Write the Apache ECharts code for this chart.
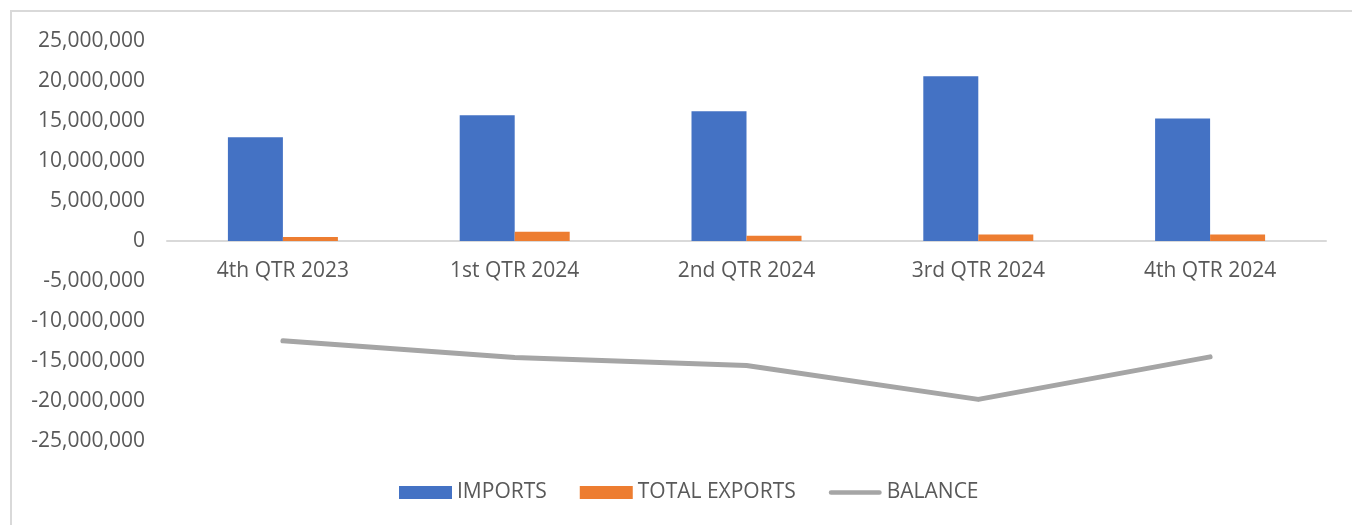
<!DOCTYPE html>
<html>
<head>
<meta charset="utf-8">
<script src="https://cdn.jsdelivr.net/npm/echarts@6/dist/echarts.min.js"></script>
<style>
html,body{margin:0;padding:0;background:#fff;}
#frame{position:absolute;left:10px;top:10px;width:1400px;height:600px;border-top:2px solid #D9D9D9;border-left:2px solid #D9D9D9;box-sizing:border-box;}
#chart{position:absolute;left:0;top:0;width:1352px;height:525px;}
</style>
</head>
<body>
<div id="frame"></div>
<div id="chart"></div>
<script>
const categories = ['4th QTR 2023', '1st QTR 2024', '2nd QTR 2024', '3rd QTR 2024', '4th QTR 2024'];
const imports = [12980000, 15720000, 16220000, 20600000, 15300000];
const totalExports = [500000, 1150000, 650000, 800000, 820000];
const balance = [-12480000, -14570000, -15570000, -19800000, -14480000];
const yTicks = { min: -25000000, max: 25000000, interval: 5000000 };

const chart = echarts.init(document.getElementById('chart'), null, { renderer: 'canvas' });
const font = 'Open Sans';
chart.setOption({
  animation: false,
  backgroundColor: 'transparent',
  grid: { left: 167, right: 26, top: 41, bottom: 84, containLabel: false },
  legend: {
    bottom: 17,
    left: 394,
    itemGap: 33,
    itemWidth: 53,
    itemHeight: 13,
    symbolKeepAspect: true,
    textStyle: { color: '#595959', fontFamily: font, fontSize: 21 },
    data: [
      { name: 'IMPORTS', icon: 'rect' },
      { name: 'TOTAL EXPORTS', icon: 'rect' },
      { name: 'BALANCE',
        icon: 'path://M2.5,0 L54.5,0 A2.5,2.5 0 0 1 54.5,5 L2.5,5 A2.5,2.5 0 0 1 2.5,0 Z',
        itemStyle: { color: '#A5A5A5', borderWidth: 0 } }
    ]
  },
  xAxis: {
    type: 'category',
    data: categories,
    offset: -200,
    axisLine: { onZero: false, lineStyle: { color: '#D9D9D9', width: 2 } },
    axisTick: { show: false },
    axisLabel: { color: '#595959', fontFamily: font, fontSize: 21, margin: 20 },
    splitLine: { show: false }
  },
  yAxis: {
    type: 'value',
    min: yTicks.min,
    max: yTicks.max,
    interval: yTicks.interval,
    axisLine: { show: false },
    axisTick: { show: false },
    splitLine: { show: false },
    axisLabel: {
      color: '#595959', fontFamily: font, fontSize: 21, margin: 22,
      formatter: v => v.toLocaleString('en-US')
    }
  },
  series: [
    {
      name: 'IMPORTS', type: 'bar', data: imports,
      barWidth: 55, barGap: '0%',
      itemStyle: { color: '#4472C4' }
    },
    {
      name: 'TOTAL EXPORTS', type: 'bar', data: totalExports,
      barWidth: 55,
      itemStyle: { color: '#ED7D31' }
    },
    {
      name: 'BALANCE', type: 'line', data: balance,
      symbol: 'none', showSymbol: false,
      lineStyle: { color: '#A5A5A5', width: 5, cap: 'round', join: 'round' },
      itemStyle: { color: '#A5A5A5' }
    }
  ]
});
</script>
</body>
</html>
